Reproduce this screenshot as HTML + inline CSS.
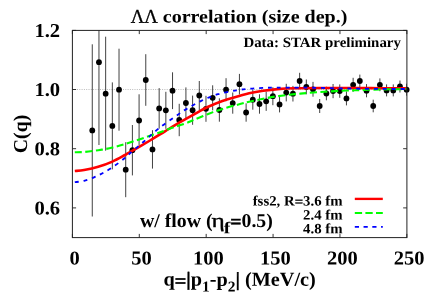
<!DOCTYPE html>
<html><head><meta charset="utf-8"><title>LL correlation</title>
<style>html,body{margin:0;padding:0;background:#fff;overflow:hidden;}svg{display:block;will-change:transform;}text{font-family:"Liberation Serif",serif;font-weight:bold;fill:#000;text-rendering:geometricPrecision;}.r{font-weight:normal;}</style></head><body>
<svg width="425" height="298" viewBox="0 0 425 298">
<rect width="425" height="298" fill="#fff"/>
<defs><clipPath id="c"><rect x="72.4" y="30.4" width="334.5" height="207.2"/></clipPath></defs>
<line x1="72.4" y1="89.50" x2="406.9" y2="89.50" stroke="#aaa" stroke-width="0.8" stroke-dasharray="1,1.3"/>
<path d="M72.40,237.60v-3.7 M72.40,30.40v3.7 M139.29,237.60v-3.7 M139.29,30.40v3.7 M206.18,237.60v-3.7 M206.18,30.40v3.7 M273.07,237.60v-3.7 M273.07,30.40v3.7 M339.96,237.60v-3.7 M339.96,30.40v3.7 M406.85,237.60v-3.7 M406.85,30.40v3.7 M72.40,207.90h3.7 M406.85,207.90h-3.7 M72.40,148.70h3.7 M406.85,148.70h-3.7 M72.40,89.50h3.7 M406.85,89.50h-3.7 M72.40,30.40h3.7 M406.85,30.40h-3.7" stroke="#000" stroke-width="0.8" fill="none"/>
<g clip-path="url(#c)"><path d="M92.27,44.30V216.50 M98.96,-20.60V145.00 M105.65,36.70V150.70 M112.33,82.40V169.40 M119.02,48.70V130.70 M125.71,142.20V197.20 M132.40,125.00V175.40 M139.09,94.30V145.50 M145.78,54.20V105.80 M152.47,130.20V168.60 M159.16,88.10V128.70 M165.85,91.80V128.80 M172.54,72.30V109.10 M179.22,103.80V136.20 M185.91,87.40V118.60 M192.60,95.60V124.80 M199.29,81.00V110.00 M205.98,95.80V121.80 M212.67,85.30V110.30 M219.36,98.30V121.70 M226.05,78.20V101.20 M232.74,92.50V113.70 M239.43,73.90V94.50 M246.11,103.30V121.70 M252.80,89.70V109.70 M259.49,94.30V113.70 M266.18,91.70V110.90 M272.87,87.20V105.20 M279.56,96.40V112.40 M286.25,83.80V101.40 M292.94,85.90V101.50 M299.63,72.80V89.20 M306.32,79.50V94.30 M313.00,81.90V96.70 M319.69,99.00V113.00 M326.38,86.70V100.30 M333.07,84.00V98.20 M339.76,84.40V97.80 M346.45,91.40V105.40 M353.14,77.80V91.80 M359.83,74.60V87.40 M366.52,84.10V97.30 M373.21,99.70V112.30 M379.89,78.40V91.20 M386.58,84.40V96.40 M393.27,84.40V96.40 M399.96,80.50V92.50 M406.65,83.70V95.70" stroke="#111" stroke-width="0.8" fill="none"/></g>
<circle cx="92.27" cy="130.40" r="2.9" fill="#000"/>
<circle cx="98.96" cy="62.20" r="2.9" fill="#000"/>
<circle cx="105.65" cy="93.70" r="2.9" fill="#000"/>
<circle cx="112.33" cy="125.90" r="2.9" fill="#000"/>
<circle cx="119.02" cy="89.70" r="2.9" fill="#000"/>
<circle cx="125.71" cy="169.70" r="2.9" fill="#000"/>
<circle cx="132.40" cy="150.20" r="2.9" fill="#000"/>
<circle cx="139.09" cy="120.50" r="2.9" fill="#000"/>
<circle cx="145.78" cy="80.00" r="2.9" fill="#000"/>
<circle cx="152.47" cy="149.40" r="2.9" fill="#000"/>
<circle cx="159.16" cy="108.40" r="2.9" fill="#000"/>
<circle cx="165.85" cy="110.30" r="2.9" fill="#000"/>
<circle cx="172.54" cy="90.70" r="2.9" fill="#000"/>
<circle cx="179.22" cy="120.00" r="2.9" fill="#000"/>
<circle cx="185.91" cy="103.00" r="2.9" fill="#000"/>
<circle cx="192.60" cy="110.20" r="2.9" fill="#000"/>
<circle cx="199.29" cy="95.50" r="2.9" fill="#000"/>
<circle cx="205.98" cy="108.80" r="2.9" fill="#000"/>
<circle cx="212.67" cy="97.80" r="2.9" fill="#000"/>
<circle cx="219.36" cy="110.00" r="2.9" fill="#000"/>
<circle cx="226.05" cy="89.70" r="2.9" fill="#000"/>
<circle cx="232.74" cy="103.10" r="2.9" fill="#000"/>
<circle cx="239.43" cy="84.20" r="2.9" fill="#000"/>
<circle cx="246.11" cy="112.50" r="2.9" fill="#000"/>
<circle cx="252.80" cy="99.70" r="2.9" fill="#000"/>
<circle cx="259.49" cy="104.00" r="2.9" fill="#000"/>
<circle cx="266.18" cy="101.30" r="2.9" fill="#000"/>
<circle cx="272.87" cy="96.20" r="2.9" fill="#000"/>
<circle cx="279.56" cy="104.40" r="2.9" fill="#000"/>
<circle cx="286.25" cy="92.60" r="2.9" fill="#000"/>
<circle cx="292.94" cy="93.70" r="2.9" fill="#000"/>
<circle cx="299.63" cy="81.00" r="2.9" fill="#000"/>
<circle cx="306.32" cy="86.90" r="2.9" fill="#000"/>
<circle cx="313.00" cy="89.30" r="2.9" fill="#000"/>
<circle cx="319.69" cy="106.00" r="2.9" fill="#000"/>
<circle cx="326.38" cy="93.50" r="2.9" fill="#000"/>
<circle cx="333.07" cy="91.10" r="2.9" fill="#000"/>
<circle cx="339.76" cy="91.10" r="2.9" fill="#000"/>
<circle cx="346.45" cy="98.40" r="2.9" fill="#000"/>
<circle cx="353.14" cy="84.80" r="2.9" fill="#000"/>
<circle cx="359.83" cy="81.00" r="2.9" fill="#000"/>
<circle cx="366.52" cy="90.70" r="2.9" fill="#000"/>
<circle cx="373.21" cy="106.00" r="2.9" fill="#000"/>
<circle cx="379.89" cy="84.80" r="2.9" fill="#000"/>
<circle cx="386.58" cy="90.40" r="2.9" fill="#000"/>
<circle cx="393.27" cy="90.40" r="2.9" fill="#000"/>
<circle cx="399.96" cy="86.50" r="2.9" fill="#000"/>
<circle cx="406.65" cy="89.70" r="2.9" fill="#000"/>
<g clip-path="url(#c)" fill="none" stroke-linecap="butt">
<path d="M74.80,171.00 C76.35,170.83 80.20,170.70 84.10,170.00 C88.00,169.30 93.48,168.20 98.20,166.80 C102.92,165.40 107.93,163.57 112.40,161.60 C116.87,159.63 122.07,156.57 125.00,155.00 C127.93,153.43 125.83,154.62 130.00,152.20 C134.17,149.78 144.17,143.98 150.00,140.50 C155.83,137.02 160.00,134.35 165.00,131.30 C170.00,128.25 175.15,125.03 180.00,122.20 C184.85,119.37 189.40,116.87 194.10,114.30 C198.80,111.73 203.48,109.03 208.20,106.80 C212.92,104.57 217.10,102.73 222.40,100.90 C227.70,99.07 235.55,97.07 240.00,95.80 C244.45,94.53 245.23,94.13 249.10,93.30 C252.97,92.47 258.48,91.50 263.20,90.80 C267.92,90.10 272.10,89.53 277.40,89.10 C282.70,88.67 287.90,88.39 295.00,88.20 C302.10,88.01 310.00,87.98 320.00,87.95 C330.00,87.92 345.00,87.96 355.00,88.00 C365.00,88.04 371.42,88.13 380.00,88.20 C388.58,88.27 402.08,88.37 406.50,88.40" stroke="#ff0000" stroke-width="2.6"/>
<path d="M74.80,152.30 C76.35,152.25 80.20,152.35 84.10,152.00 C88.00,151.65 93.48,150.93 98.20,150.20 C102.92,149.47 107.52,148.75 112.40,147.60 C117.28,146.45 120.73,145.43 127.50,143.30 C134.27,141.17 145.92,137.25 153.00,134.80 C160.08,132.35 164.67,130.48 170.00,128.60 C175.33,126.72 180.98,124.97 185.00,123.50 C189.02,122.03 190.23,121.38 194.10,119.80 C197.97,118.22 203.48,115.82 208.20,114.00 C212.92,112.18 217.10,110.55 222.40,108.90 C227.70,107.25 235.55,105.28 240.00,104.10 C244.45,102.92 245.23,102.68 249.10,101.80 C252.97,100.92 258.48,99.73 263.20,98.80 C267.92,97.87 272.10,96.98 277.40,96.20 C282.70,95.42 290.73,94.57 295.00,94.10 C299.27,93.63 299.90,93.67 303.00,93.40 C306.10,93.13 310.07,92.77 313.60,92.50 C317.13,92.23 318.72,92.13 324.20,91.80 C329.68,91.47 341.37,90.75 346.50,90.50 C351.63,90.25 349.42,90.47 355.00,90.30 C360.58,90.12 371.42,89.64 380.00,89.45 C388.58,89.26 402.08,89.20 406.50,89.15" stroke="#00ff00" stroke-width="2.1" stroke-dasharray="7.1,3.5"/>
<path d="M74.80,182.20 C76.35,181.97 80.90,181.60 84.10,180.80 C87.30,180.00 90.93,178.67 94.00,177.40 C97.07,176.13 99.43,174.87 102.50,173.20 C105.57,171.53 108.88,169.77 112.40,167.40 C115.92,165.03 120.80,161.23 123.60,159.00 C126.40,156.77 125.97,156.78 129.20,154.00 C132.43,151.22 138.12,146.53 143.00,142.30 C147.88,138.07 152.80,133.12 158.50,128.60 C164.20,124.08 172.92,118.23 177.20,115.20 C181.48,112.17 180.20,112.80 184.20,110.40 C188.20,108.00 195.55,103.50 201.20,100.80 C206.85,98.10 212.22,95.95 218.10,94.20 C223.98,92.45 231.33,91.22 236.50,90.30 C241.67,89.38 244.68,89.10 249.10,88.70 C253.52,88.30 258.35,88.08 263.00,87.90 C267.65,87.72 271.67,87.65 277.00,87.60 C282.33,87.55 289.50,87.58 295.00,87.60 C300.50,87.62 305.00,87.63 310.00,87.70 C315.00,87.77 320.00,87.88 325.00,88.00 C330.00,88.12 335.00,88.29 340.00,88.40 C345.00,88.51 348.33,88.57 355.00,88.65 C361.67,88.73 371.42,88.84 380.00,88.90 C388.58,88.96 402.08,88.98 406.50,89.00" stroke="#0000ff" stroke-width="1.85" stroke-dasharray="3.95,4.88"/>
</g>
<rect x="72.4" y="30.4" width="334.5" height="207.2" fill="none" stroke="#222" stroke-width="1"/>
<line x1="354.8" y1="198.9" x2="382.8" y2="198.9" stroke="#ff0000" stroke-width="2.35"/>
<line x1="354.8" y1="213" x2="382.8" y2="213" stroke="#00ff00" stroke-width="1.95" stroke-dasharray="7.3,3.3"/>
<line x1="354.8" y1="226.9" x2="382.8" y2="226.9" stroke="#0000ff" stroke-width="1.8" stroke-dasharray="4.2,4.55"/>
<text transform="translate(60.10,36.90) rotate(0.03) scale(1.0440,1)" font-size="19.7" text-anchor="end">1.2</text>
<text transform="translate(60.10,96.00) rotate(0.03) scale(1.0440,1)" font-size="19.7" text-anchor="end">1.0</text>
<text transform="translate(60.10,155.20) rotate(0.03) scale(1.0440,1)" font-size="19.7" text-anchor="end">0.8</text>
<text transform="translate(60.10,214.40) rotate(0.03) scale(1.0440,1)" font-size="19.7" text-anchor="end">0.6</text>
<text transform="translate(74.70,264.40) rotate(0.03) scale(1.0400,1)" font-size="19.7" text-anchor="middle">0</text>
<text transform="translate(141.59,264.40) rotate(0.03) scale(1.0400,1)" font-size="19.7" text-anchor="middle">50</text>
<text transform="translate(208.48,264.40) rotate(0.03) scale(1.0400,1)" font-size="19.7" text-anchor="middle">100</text>
<text transform="translate(275.37,264.40) rotate(0.03) scale(1.0400,1)" font-size="19.7" text-anchor="middle">150</text>
<text transform="translate(342.26,264.40) rotate(0.03) scale(1.0400,1)" font-size="19.7" text-anchor="middle">200</text>
<text transform="translate(409.15,264.40) rotate(0.03) scale(1.0400,1)" font-size="19.7" text-anchor="middle">250</text>
<text transform="translate(130.80,22.70) rotate(0.03) scale(0.9650,1)" font-size="19.4" text-anchor="start"><tspan class="r" stroke="#000" stroke-width="0.3">ΛΛ</tspan></text>
<text transform="translate(347.40,22.60) rotate(0.03) scale(1.0940,1)" font-size="18.3" text-anchor="end">correlation (size dep.)</text>
<text transform="translate(243.40,47.00) rotate(0.03) scale(1.0500,1)" font-size="14.2" text-anchor="start">Data: STAR preliminary</text>
<text transform="translate(342.60,205.50) rotate(0.03) scale(1.0440,1)" font-size="14.2" text-anchor="end">fss2, R<tspan dy="0.8" stroke="#000" stroke-width="0.3">=</tspan><tspan dy="-0.8">3.6 fm</tspan></text>
<text transform="translate(342.60,219.50) rotate(0.03) scale(1.0440,1)" font-size="14.2" text-anchor="end">2.4 fm</text>
<text transform="translate(342.60,233.20) rotate(0.03) scale(1.0440,1)" font-size="14.2" text-anchor="end">4.8 fm</text>
<text transform="translate(140.00,226.90) rotate(0.03) scale(1.0150,1)" font-size="19.5" text-anchor="start">w/ flow (</text>
<text transform="translate(211.40,226.90) rotate(0.03) scale(1.3000,1)" font-size="19.5" text-anchor="start"><tspan class="r" stroke="#000" stroke-width="0.35">η</tspan></text>
<text transform="translate(223.70,233.30) rotate(0.03) scale(1.2000,1)" font-size="16.5" text-anchor="start">f</text>
<text transform="translate(230.20,226.90) rotate(0.03) scale(1.0150,1)" font-size="19.5" text-anchor="start"><tspan dy="1.2" stroke="#000" stroke-width="0.5">=</tspan><tspan dy="-1.2">0.5)</tspan></text>
<text transform="translate(163.50,285.60) rotate(0.03) scale(1.0280,1)" font-size="19.7" text-anchor="start">q<tspan dy="1.9" stroke="#000" stroke-width="0.5">=</tspan><tspan dy="-1.9" stroke="#000" stroke-width="0.4">|</tspan>p<tspan dy="5.8" font-size="15">1</tspan><tspan dy="-5.8">-p</tspan><tspan dy="5.8" font-size="15">2</tspan><tspan dy="-5.8" stroke="#000" stroke-width="0.4">|</tspan> (MeV/c)</text>
<text transform="translate(27,134) rotate(-90.03) scale(1.007,1)" font-size="19.7" text-anchor="middle">C(q)</text>
</svg></body></html>
